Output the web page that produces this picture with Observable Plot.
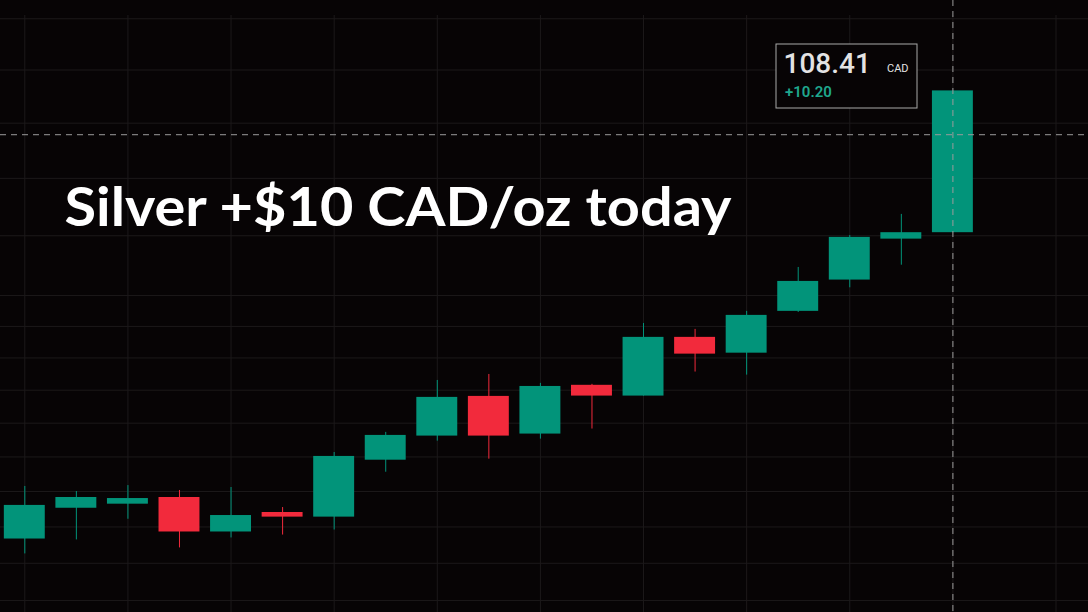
<!DOCTYPE html>
<html>
<head>
<meta charset="utf-8">
<script src="https://cdn.jsdelivr.net/npm/d3@7"></script>
<script src="https://cdn.jsdelivr.net/npm/@observablehq/plot@0.6"></script>
<style>
  html, body { margin: 0; padding: 0; background: #070405; }
  #chart svg { display: block; }
</style>
</head>
<body>
<div id="chart"></div>
<script>
// ---- data ----
const candleIndex = d3.range(19);
const opens  = [79.33, 81.05, 81.28, 81.66, 79.72, 80.81, 80.55, 83.81, 85.23, 87.62, 85.35, 88.30, 87.64, 91.30, 90.30, 92.97, 95.02, 97.77, 98.21];
const closes = [81.21, 81.66, 81.60, 79.72, 80.64, 80.55, 84.03, 85.27, 87.56, 85.23, 88.23, 87.64, 91.30, 90.24, 92.71, 94.93, 97.89, 98.21, 108.41];
const highs  = [82.29, 82.00, 82.34, 82.06, 82.23, 81.09, 84.26, 85.45, 88.60, 88.97, 88.42, 88.36, 92.19, 91.81, 92.97, 95.86, 98.02, 99.47, 108.41];
const lows   = [78.51, 79.28, 80.43, 78.84, 79.39, 79.55, 79.83, 83.11, 84.93, 83.87, 85.05, 85.65, 87.64, 89.12, 88.93, 92.90, 94.51, 96.01, 98.21];

const priceGrid = [76, 78, 80, 82, 84, 86, 88, 90, 92, 94, 98, 102, 106, 110, 114];
const timeGrid = [0, 2, 4, 6, 8, 10, 12, 14, 16, 18, 20];
const gridTopPrice = 114.26;
const crossIndex = 18;
const crossPrice = 105.15;

const titleText = "Silver +$10 CAD/oz today";
const lastPriceLabel = "108.41";
const currencyLabel = "CAD";
const changeLabel = "+10.20";

// ---- build table ----
const candles = candleIndex.map(i => ({
  i, open: opens[i], close: closes[i], high: highs[i], low: lows[i],
  up: closes[i] >= opens[i]
}));

const GREEN = "#02947a";
const RED = "#f22a3c";
const GRID = "#1c191a";
const HALF = 0.397;

const chart = Plot.plot({
  width: 1088,
  height: 612,
  marginTop: 0, marginBottom: 0, marginLeft: 0, marginRight: 0,
  style: { background: "#070405", overflow: "visible" },
  x: { type: "linear", domain: [-0.4713, 20.630], axis: null },
  y: { type: "log", domain: [75.37, 115.46], axis: null },
  marks: [
    Plot.ruleY(priceGrid, { stroke: GRID, strokeWidth: 1 }),
    Plot.ruleX(timeGrid, { x: d => d, y1: gridTopPrice, y2: 75.37, stroke: GRID, strokeWidth: 1 }),
    Plot.ruleX(candles, { x: "i", y1: "low", y2: "high", stroke: d => d.up ? GREEN : RED, strokeWidth: 1 }),
    Plot.rect(candles, {
      x1: d => d.i - HALF, x2: d => d.i + HALF,
      y1: "open", y2: "close",
      fill: d => d.up ? GREEN : RED
    }),
    Plot.ruleX([crossIndex], { stroke: "#9b9b9b", strokeWidth: 1, strokeDasharray: "6,5" }),
    Plot.ruleY([crossPrice], { stroke: "#9b9b9b", strokeWidth: 1, strokeDasharray: "6,5" }),
    Plot.frame({ stroke: "#a9a9a9", strokeWidth: 1, fill: "#070405",
      insetLeft: 775.5, insetRight: 171.5, insetTop: 43.5, insetBottom: 504.5 }),
    Plot.text([lastPriceLabel], { text: d => d, frameAnchor: "top-left", dx: 783, dy: 72.5,
      lineAnchor: "bottom", textAnchor: "start", fill: "#e3e3e3", fontSize: 28,
      fontFamily: "Roboto, sans-serif", fontWeight: 500 }),
    Plot.text([currencyLabel], { text: d => d, frameAnchor: "top-left", dx: 886.5, dy: 71.5,
      lineAnchor: "bottom", textAnchor: "start", fill: "#e3e3e3", fontSize: 11,
      fontFamily: "Roboto, sans-serif" }),
    Plot.text([changeLabel], { text: d => d, frameAnchor: "top-left", dx: 784.5, dy: 96,
      lineAnchor: "bottom", textAnchor: "start", fill: "#1fa78d", fontSize: 15,
      fontFamily: "Roboto, sans-serif", fontWeight: 600 }),
    Plot.text([titleText], { text: d => d, frameAnchor: "top-left", dx: 64, dy: 225,
      lineAnchor: "bottom", textAnchor: "start", fill: "#ffffff", fontSize: 54,
      fontFamily: "Lato, 'Open Sans', sans-serif", fontWeight: "bold" })
  ]
});

document.getElementById("chart").appendChild(chart);

// stretch title to the reference width
d3.select(chart).selectAll("text").each(function() {
  if (this.textContent === titleText) {
    this.setAttribute("textLength", 667);
    this.setAttribute("lengthAdjust", "spacingAndGlyphs");
  }
});
</script>
</body>
</html>
